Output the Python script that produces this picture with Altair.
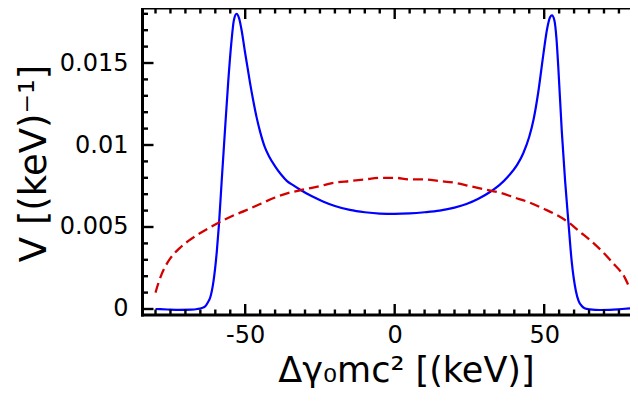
import altair as alt
import pandas as pd

# ---- data ----
blue_x = [-80, -76, -72, -68, -66, -64.5, -63.5, -62.5, -61.7, -60.6, -59.5, -58.8, -57.9, -56.8,
          -55.7, -54.6, -53.8, -52.9, -52.0, -51.2, -50.1, -49.2, -48.4, -47.3, -46.2, -45,
          -43.5, -42, -40, -38, -36, -34, -32, -28, -24, -20, -15, -10, -5, 0, 5, 10, 15, 20,
          24, 28, 32, 35, 38, 41, 43, 45, 46.5, 48, 49.7, 51, 52, 52.6, 53.4, 54.1, 54.7, 55.9,
          57, 58.1, 59.2, 60.6, 61.5, 62.5, 63.5, 65.3, 68.7, 72, 76, 79.8]
blue_v = [0.0, -0.00003, -0.00005, -0.00004, 0.0, 0.00006, 0.00014, 0.0004, 0.0007, 0.0017,
          0.0035, 0.0051, 0.0077, 0.0108, 0.0138, 0.0163, 0.0176, 0.0180, 0.0177, 0.0170,
          0.0157, 0.0147, 0.0138, 0.0127, 0.0117, 0.0108, 0.0099, 0.0093, 0.0087, 0.0082,
          0.0078, 0.00755, 0.00732, 0.00690, 0.00656, 0.00628, 0.00604, 0.00590, 0.00582,
          0.0058, 0.00583, 0.00590, 0.00600, 0.00618, 0.00640, 0.00672, 0.00715, 0.00755,
          0.0081, 0.0088, 0.0095, 0.0105, 0.0116, 0.0132, 0.0155, 0.0171, 0.0178, 0.0179,
          0.0176, 0.0165, 0.0148, 0.0108, 0.0078, 0.0053, 0.0029, 0.0011, 0.0005, 0.0002,
          0.00005, -0.00002, -0.00006, -0.00005, 0.0, 0.00005]

red_x = [-80, -79, -78, -77, -75, -72, -69, -66, -62, -58, -54, -50, -45, -40, -35, -30, -25,
         -20, -15, -10, -5, 0, 5, 10, 15, 20, 25, 30, 35, 40, 45, 50, 54, 58, 62, 66, 70, 73,
         75.5, 77, 78.5]
red_v = [0.0010, 0.0016, 0.0021, 0.0025, 0.0031, 0.0037, 0.00415, 0.00452, 0.00495, 0.00535,
         0.0057, 0.0060, 0.0064, 0.0068, 0.0071, 0.0073, 0.0075, 0.0077, 0.0078, 0.0079,
         0.0080, 0.0080, 0.0079, 0.0079, 0.0078, 0.0077, 0.0075, 0.0073, 0.0071, 0.0068,
         0.0065, 0.0061, 0.00575, 0.0053, 0.0047, 0.0041, 0.0034, 0.0028, 0.0023, 0.0019,
         0.0013]

x_major = [-50, 0, 50]
x_minor = [-80, -75, -70, -65, -60, -55, -45, -40, -35, -30, -25, -20, -15, -10, -5,
           5, 10, 15, 20, 25, 30, 35, 40, 45, 55, 60, 65, 70, 75]
y_major = [0, 0.005, 0.01, 0.015]
y_minor = [0.001, 0.002, 0.003, 0.004, 0.006, 0.007, 0.008, 0.009, 0.011, 0.012, 0.013,
           0.014, 0.016, 0.017, 0.018]

# ---- layout (whole svg kept inside the 638x401 page with its 8px margin) ----
W = 487.5
H = 307
FONT = "DejaVu Sans"
xs = alt.Scale(domain=[-84.35, 78.7], nice=False, zero=False)
ys = alt.Scale(domain=[-0.000366, 0.018354], nice=False, zero=False)

blue_df = pd.DataFrame({"x": blue_x, "v": blue_v})
red_df = pd.DataFrame({"x": red_x, "v": red_v})

x_axis = alt.Axis(values=x_major, ticks=False, tickSize=0, domain=False, grid=False,
                  labelExpr="datum.value < 0 ? '-' + toString(-datum.value) : toString(datum.value)",
                  labelFont=FONT, labelFontSize=24, labelColor="black", labelPadding=8,
                  title="Δγ₀mc² [(keV)]", titleFont=FONT, titleFontSize=35,
                  titleFontWeight="normal", titleColor="black", titleX=263.5, titleY=66,
                  titleAlign="center", titleBaseline="alphabetic")
y_axis = alt.Axis(values=y_major, ticks=False, tickSize=0, domain=False, grid=False,
                  labelExpr="toString(datum.value)",
                  labelFont=FONT, labelFontSize=24, labelColor="black", labelPadding=14.5,
                  title="V [(keV)⁻¹]", titleFont=FONT, titleFontSize=37,
                  titleFontWeight="normal", titleColor="black", titleX=-97.5, titleY=155,
                  titleAngle=-90, titleAlign="center", titleBaseline="alphabetic")

blue = alt.Chart(blue_df).mark_line(color="#0000ff", strokeWidth=2.2, interpolate="monotone",
                                    clip=True).encode(
    x=alt.X("x:Q", scale=xs, axis=x_axis),
    y=alt.Y("v:Q", scale=ys, axis=y_axis),
    order="x:Q",
)
red = alt.Chart(red_df).mark_line(color="#d40000", strokeWidth=2.3, strokeDash=[10, 5],
                                  interpolate="monotone", clip=True).encode(
    x=alt.X("x:Q", scale=xs, axis=x_axis),
    y=alt.Y("v:Q", scale=ys, axis=y_axis),
    order="x:Q",
)

xmaj_df = pd.DataFrame({"x": x_major})
xmin_df = pd.DataFrame({"x": x_minor})
ymaj_df = pd.DataFrame({"v": y_major})
ymin_df = pd.DataFrame({"v": y_minor})

TW = 2.4


def xticks(df, y0, y1):
    return alt.Chart(df).mark_rule(color="black", strokeWidth=TW).encode(
        x=alt.X("x:Q", scale=xs, axis=x_axis), y=alt.value(y0), y2=alt.value(y1))


def yticks(df, x0, x1):
    return alt.Chart(df).mark_rule(color="black", strokeWidth=TW).encode(
        y=alt.Y("v:Q", scale=ys, axis=y_axis), x=alt.value(x0), x2=alt.value(x1))


ticks = [
    xticks(xmaj_df, H, H - 11), xticks(xmin_df, H, H - 5.5),
    xticks(xmaj_df, 0, 11), xticks(xmin_df, 0, 5.5),
    yticks(ymaj_df, 0, 11), yticks(ymin_df, 0, 5.5),
]

spine_df = pd.DataFrame({"k": [0]})
SW = 3
spines = [
    alt.Chart(spine_df).mark_rule(color="black", strokeWidth=SW, strokeCap="square").encode(
        x=alt.value(0), y=alt.value(0), y2=alt.value(H)),
    alt.Chart(spine_df).mark_rule(color="black", strokeWidth=SW, strokeCap="square").encode(
        x=alt.value(0), x2=alt.value(W), y=alt.value(H)),
    alt.Chart(spine_df).mark_rule(color="black", strokeWidth=SW, strokeCap="square").encode(
        x=alt.value(0), x2=alt.value(W), y=alt.value(0)),
]

chart = alt.layer(blue, red, *ticks, *spines).properties(
    width=W, height=H,
    autosize=alt.AutoSizeParams(type="none"),
    padding={"left": 134.5, "top": 0, "right": 0, "bottom": 73},
    background="white",
).configure_view(stroke=None)

chart.save("out.html", embed_options={"renderer": "svg", "actions": False})
